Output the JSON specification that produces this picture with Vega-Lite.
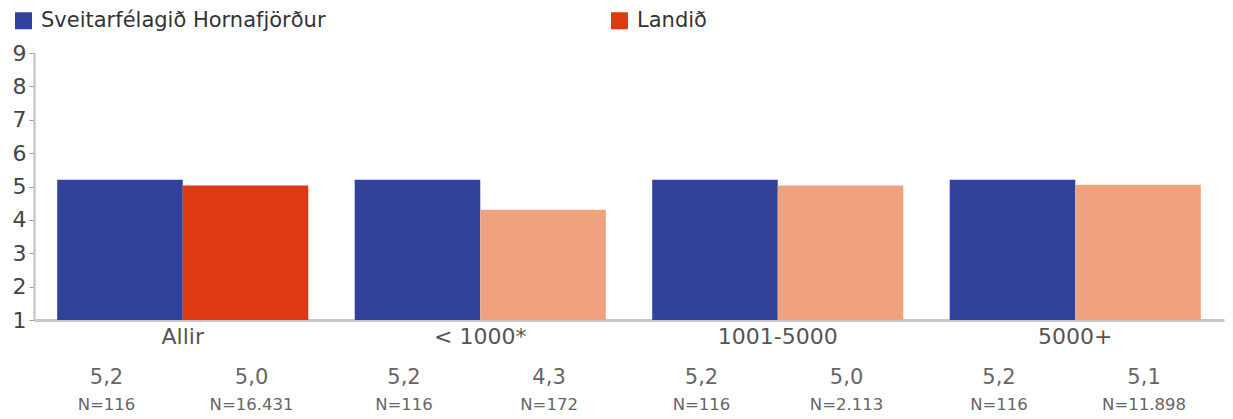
{
  "$schema": "https://vega.github.io/schema/vega-lite/v6.json",
  "padding": {"left": 12, "top": 10, "right": 5, "bottom": 0},
  "spacing": 44,
  "bounds": "flush",
  "resolve": {"scale": {"x": "independent", "xOffset": "independent", "y": "independent"}},
  "config": {
    "view": {"stroke": null},
    "font": "DejaVu Sans",
    "axis": {"labelFont": "DejaVu Sans"},
    "legend": {"labelFont": "DejaVu Sans"}
  },
  "data": {
    "values": [
      {"group": "Allir", "series": "Sveitarfélagið Hornafjörður", "value": 5.2, "label": "5,2", "n": "N=116"},
      {"group": "Allir", "series": "Landið", "value": 5.03, "label": "5,0", "n": "N=16.431"},
      {"group": "< 1000*", "series": "Sveitarfélagið Hornafjörður", "value": 5.2, "label": "5,2", "n": "N=116"},
      {"group": "< 1000*", "series": "Landið", "value": 4.3, "label": "4,3", "n": "N=172"},
      {"group": "1001-5000", "series": "Sveitarfélagið Hornafjörður", "value": 5.2, "label": "5,2", "n": "N=116"},
      {"group": "1001-5000", "series": "Landið", "value": 5.03, "label": "5,0", "n": "N=2.113"},
      {"group": "5000+", "series": "Sveitarfélagið Hornafjörður", "value": 5.2, "label": "5,2", "n": "N=116"},
      {"group": "5000+", "series": "Landið", "value": 5.05, "label": "5,1", "n": "N=11.898"}
    ]
  },
  "vconcat": [
    {
      "width": 1190,
      "height": 267,
      "mark": {"type": "bar"},
      "encoding": {
        "x": {
          "field": "group", "type": "nominal",
          "sort": ["Allir", "< 1000*", "1001-5000", "5000+"],
          "scale": {"paddingInner": 0.156, "paddingOuter": 0.078},
          "axis": {"title": null, "labelAngle": 0, "ticks": false, "domainColor": "#c8c8c8", "domainWidth": 3,
                   "labelFontSize": 22, "labelColor": "#555555", "labelPadding": 6}
        },
        "xOffset": {"field": "series", "type": "nominal", "sort": ["Sveitarfélagið Hornafjörður", "Landið"]},
        "y": {
          "field": "value", "type": "quantitative",
          "scale": {"domain": [1, 9], "zero": false, "nice": false},
          "axis": {"title": null, "values": [1, 2, 3, 4, 5, 6, 7, 8, 9], "grid": false, "domainColor": "#c8c8c8", "domainWidth": 2.5,
                   "tickColor": "#999999", "tickSize": 5, "labelFontSize": 22, "labelColor": "#444444", "labelPadding": 3}
        },
        "y2": {"datum": 1},
        "color": {
          "field": "series", "type": "nominal",
          "condition": {"test": "datum.series === 'Landið' && datum.group !== 'Allir'", "value": "#f0a27e"},
          "scale": {"domain": ["Sveitarfélagið Hornafjörður", "Landið"], "range": ["#32429a", "#de3a12"]},
          "legend": {
            "title": null, "orient": "none", "legendX": -21, "legendY": -43, "direction": "horizontal", "columns": 2,
            "padding": 0, "symbolType": "square", "symbolSize": 289, "symbolStrokeWidth": 0,
            "labelFontSize": 21, "labelColor": "#333333", "labelOffset": 7, "columnPadding": 283, "labelLimit": 500
          }
        }
      }
    },
    {
      "width": 1190,
      "height": 54,
      "transform": [{"fold": ["label", "n"], "as": ["row", "txt"]}],
      "mark": {"type": "text", "color": "#666666"},
      "encoding": {
        "x": {
          "field": "group", "type": "nominal",
          "sort": ["Allir", "< 1000*", "1001-5000", "5000+"],
          "scale": {"type": "band", "paddingInner": 0.025, "paddingOuter": 0.0125, "align": 0},
          "axis": null
        },
        "xOffset": {"field": "series", "type": "nominal", "sort": ["Sveitarfélagið Hornafjörður", "Landið"],
                    "scale": {"type": "band", "paddingInner": 0, "paddingOuter": 0}},
        "y": {"field": "row", "type": "nominal", "sort": ["label", "n"], "axis": null,
              "scale": {"type": "band", "paddingInner": 0, "paddingOuter": 0}},
        "text": {"field": "txt"},
        "size": {"field": "row", "type": "nominal", "scale": {"domain": ["label", "n"], "range": [21, 16.5]}, "legend": null}
      }
    }
  ]
}
